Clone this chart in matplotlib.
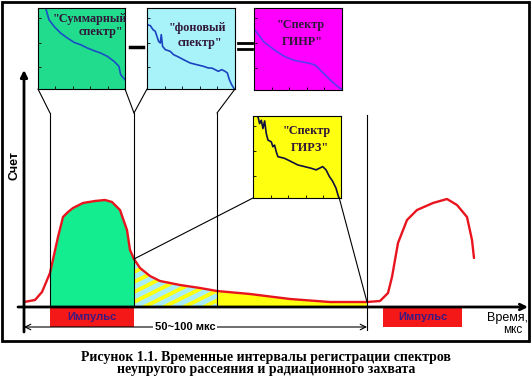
import numpy as np
import matplotlib
matplotlib.use("Agg")
import matplotlib.pyplot as plt
from matplotlib.patches import Rectangle, ConnectionPatch
from matplotlib.lines import Line2D

plt.rcParams['font.family'] = ['Liberation Sans', 'DejaVu Sans']

# time axis (arbitrary units) and count rate of the neutron pulse
t = np.array([0, 11, 18, 26, 30, 34, 39, 44, 49, 59, 71, 81, 88, 96, 103, 106,
              110, 116, 126, 136, 156, 176, 193, 226, 266, 306, 343,
              356, 364, 368, 374, 383, 393, 409, 423, 433, 443, 448, 450])
counts = np.array([5, 7, 15, 34, 52, 70, 90, 95, 99, 104, 106, 107, 105, 97, 77, 57,
                   48, 39, 31, 26, 22, 19, 16, 13, 8, 5, 5,
                   6, 14, 30, 64, 87, 97, 104, 108, 102, 90, 67, 49])

# window boundaries
gates = [26, 110, 193, 343]
pulse_start = [26, 359]
pulse_end = [110, 438]

# spectra in the insets (channel fraction, relative counts)
sum_x = [0.088, 0.126, 0.184, 0.26, 0.337, 0.414, 0.49, 0.567, 0.644, 0.72, 0.797, 0.874, 0.93, 0.95, 1.0]
sum_y = [1.0, 0.856, 0.774, 0.69, 0.63, 0.576, 0.547, 0.506, 0.473, 0.444, 0.403, 0.342, 0.28, 0.177, 0.115]

bg_x = [0, 0.038, 0.068, 0.094, 0.113, 0.132, 0.151, 0.162, 0.177, 0.208, 0.264, 0.302, 0.358, 0.415,
        0.491, 0.566, 0.642, 0.698, 0.736, 0.774, 0.811, 0.849, 0.887, 0.913, 0.936, 0.962, 0.992]
bg_y = [0.794, 0.782, 0.733, 0.712, 0.65, 0.588, 0.568, 0.671, 0.527, 0.486, 0.465, 0.424, 0.395, 0.362,
        0.321, 0.3, 0.28, 0.259, 0.259, 0.239, 0.218, 0.239, 0.218, 0.198, 0.115, 0.053, 0.0]

inel_x = [0, 0.057, 0.113, 0.189, 0.264, 0.358, 0.453, 0.547, 0.642, 0.698, 0.736, 0.811, 0.887, 0.962, 1.0]
inel_y = [0.746, 0.665, 0.585, 0.524, 0.464, 0.403, 0.363, 0.343, 0.323, 0.302, 0.262, 0.181, 0.101, 0.032, 0.008]

capt_x = [0.057, 0.075, 0.094, 0.113, 0.132, 0.151, 0.17, 0.208, 0.226, 0.245, 0.264, 0.283, 0.358, 0.434,
          0.509, 0.585, 0.66, 0.717, 0.755, 0.792, 0.83, 0.868, 0.906, 0.943, 0.97, 0.98]
capt_y = [0.988, 0.907, 0.948, 0.847, 0.94, 0.786, 0.706, 0.685, 0.625, 0.645, 0.565, 0.504, 0.484, 0.444,
          0.403, 0.383, 0.363, 0.343, 0.363, 0.383, 0.343, 0.262, 0.202, 0.121, 0.02, 0.0]

W, H = 532, 381
fig = plt.figure(figsize=(W / 100, H / 100), dpi=100)

def px_rect(x0, y0, x1, y1):
    return [x0 / W, 1 - y1 / H, (x1 - x0) / W, (y1 - y0) / H]

# outer frame
fig.add_artist(Rectangle((2 / W, 1 - 341 / H), 527 / W, 339 / H, transform=fig.transFigure,
                         fill=False, lw=2, ec='black'))

ax = fig.add_axes(px_rect(24, 70, 528, 332))
ax.set_xlim(0, 504)
ax.set_ylim(-25, 237)
ax.axis('off')

# fills under the curve
ax.fill_between(t, counts, where=(t >= gates[0]) & (t <= gates[1]), color='#14ec90', lw=0)
striped = ax.fill_between(t, counts, where=(t >= gates[1]) & (t <= gates[2]), color='#ffff10', lw=0)
ax.fill_between(t, counts, where=(t >= gates[2]) & (t <= gates[3]), color='#ffff10', lw=0)

# shallow cyan stripes in the overlap window, clipped to its area
clip = striped.get_paths()[0]
for off in np.arange(-60, 60, 10):
    ln, = ax.plot([gates[1], gates[2]], [off, off + 0.5 * (gates[2] - gates[1])],
                  color='#a8eef6', lw=3.6, solid_capstyle='butt')
    ln.set_clip_path(clip, ax.transData)

ax.plot(t, counts, color='#e8141e', lw=1.7, solid_capstyle='round')

# gate lines
for g in gates[:3]:
    ax.plot([g, g], [0, 194], color='black', lw=0.8)
ax.plot([gates[3], gates[3]], [-23, 192], color='black', lw=0.8)

# axes arrows
ax.annotate('', xy=(0, 237), xytext=(0, -25),
            arrowprops=dict(arrowstyle='-|>', lw=2, color='black', mutation_scale=10,
                            shrinkA=0, shrinkB=0))
ax.annotate('', xy=(504, 0), xytext=(-6, 0),
            arrowprops=dict(arrowstyle='->', lw=2, color='black', mutation_scale=10,
                            shrinkA=0, shrinkB=0))

# pulses
ax.bar(pulse_start, [-19, -19], width=np.array(pulse_end) - np.array(pulse_start), bottom=-1,
       align='edge', color='#f51818', lw=0)
for s, e in zip(pulse_start, pulse_end):
    ax.text((s + e) / 2, -10.5, 'Импульс', ha='center', va='center', fontsize=8,
            fontweight='bold', color='#3c1a80')

# 50~100 mks interval
ax.annotate('', xy=(0, -20), xytext=(gates[3], -20),
            arrowprops=dict(arrowstyle='<->', lw=0.8, color='black', shrinkA=0, shrinkB=0))
ax.text(161, -20, '50~100 мкс', ha='center', va='center', fontsize=8, fontweight='bold',
        bbox=dict(fc='white', ec='none', pad=1))

ax.text(504, -11, 'Время,', ha='right', va='center', fontsize=9)
ax.text(498, -23, 'мкс', ha='right', va='center', fontsize=8.5)
fig.text(14 / W, 1 - 166 / H, 'Счет', rotation=90, ha='center', va='center',
         fontsize=9, fontweight='bold')

# inset spectra
def inset(rect, face, xs, ys, color, label, tx, ty):
    a = fig.add_axes(px_rect(*rect))
    a.set_facecolor(face)
    a.plot(xs, ys, color=color, lw=1.2)
    a.set_xlim(0, 1)
    a.set_ylim(0, 1)
    a.set_xticks([0.2, 0.4, 0.6, 0.8])
    a.set_yticks([0.27, 0.57, 0.88])
    a.tick_params(direction='in', length=2.5, width=0.6, labelbottom=False, labelleft=False)
    for sp in a.spines.values():
        sp.set_linewidth(0.8)
    for txt, x, y in zip(label, tx, ty):
        a.text(x, y, txt, transform=a.transAxes, ha='right', va='center', fontsize=8.8,
               fontweight='bold', family='Liberation Serif', color='#301838')
    return a

a_sum = inset((38, 8, 125, 89), '#22dc8e', sum_x, sum_y, '#1a4ec8',
              ['"Суммарный', 'спектр"'], [1.02, 0.98], [0.86, 0.70])
a_bg = inset((147, 8, 235, 89), '#a8f2fa', bg_x, bg_y, '#1a44c0',
             ['"фоновый', 'спектр"'], [0.9, 0.86], [0.75, 0.57])
a_inel = inset((254, 8, 342, 90), '#ff00ff', inel_x, inel_y, '#5a3cf0',
               ['"Спектр', 'ГИНР"'], [0.8, 0.78], [0.79, 0.59])
a_capt = inset((253, 116, 341, 198), '#ffff10', capt_x, capt_y, '#101040',
               ['"Спектр', 'ГИРЗ"'], [0.88, 0.86], [0.82, 0.61])

# connector lines
def connect(axA, xyA, xyB):
    fig.add_artist(ConnectionPatch(xyA=xyA, coordsA=axA.transAxes, xyB=xyB, coordsB=ax.transData,
                                   color='black', lw=0.8))

connect(a_sum, (0, 0), (gates[0], 194))
connect(a_sum, (1, 0), (gates[1], 194))
connect(a_bg, (0, 0), (gates[1], 194))
connect(a_bg, (1, 0), (gates[2], 194))
connect(a_capt, (0, 0), (gates[1], 48))
connect(a_capt, (0.98, 0), (gates[3], 5))

# minus and equals signs
fig.add_artist(Line2D([130 / W, 143 / W], [1 - 47 / H] * 2, lw=2.5, color='black'))
fig.add_artist(Line2D([238 / W, 252 / W], [1 - 43 / H] * 2, lw=2, color='black'))
fig.add_artist(Line2D([238 / W, 252 / W], [1 - 48.5 / H] * 2, lw=2, color='black'))

# caption
fig.text(0.5, 1 - 357 / H, 'Рисунок 1.1. Временные интервалы регистрации спектров',
         ha='center', va='center', fontsize=10, fontweight='bold', family='Liberation Serif')
fig.text(0.5, 1 - 370 / H, 'неупругого рассеяния и радиационного захвата',
         ha='center', va='center', fontsize=10, fontweight='bold', family='Liberation Serif')

fig.savefig('out.png', dpi=100)
